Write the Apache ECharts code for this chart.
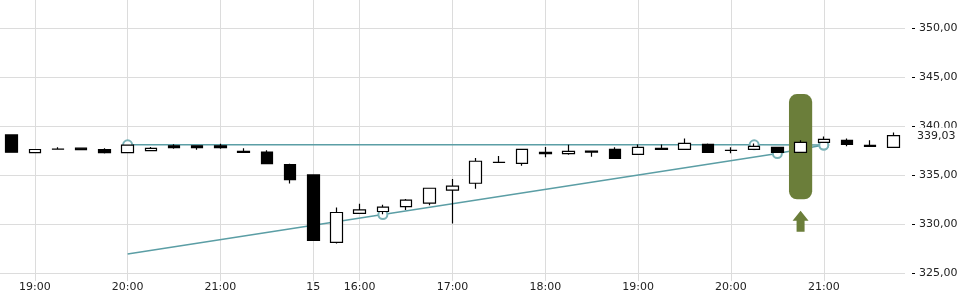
<!DOCTYPE html>
<html>
<head>
<meta charset="utf-8">
<script src="https://cdn.jsdelivr.net/npm/echarts@6/dist/echarts.min.js"></script>
<style>html,body{margin:0;padding:0;background:#fff}#c{width:960px;height:300px}</style>
</head>
<body>
<div id="c"></div>
<script>
// ---- data ----
const categories = ['18:45','19:00','19:15','19:30','19:45','20:00','20:15','20:30','20:45','21:00','21:15','21:30','21:45',
  '15:30','15:45','16:00','16:15','16:30','16:45','17:00','17:15','17:30','17:45','18:00','18:15','18:30','18:45',
  '19:00','19:15','19:30','19:45','20:00','20:15','20:30','20:45','21:00','21:15','21:30','21:45'];
// [open, close, low, high]
const ohlc = [
  [339.10,337.35,337.30,339.15],[337.30,337.62,337.30,337.62],[337.65,337.66,337.65,337.86],[337.75,337.60,337.55,337.75],
  [337.60,337.30,337.20,337.75],[337.30,338.07,337.30,338.07],[337.50,337.74,337.50,337.87],[338.00,337.80,337.70,338.15],
  [338.00,337.80,337.60,338.00],[338.00,337.80,337.70,338.20],[337.43,337.33,337.33,337.74],[337.36,336.17,336.17,337.53],
  [336.07,334.55,334.15,336.17],[335.03,328.35,328.35,335.03],[328.15,331.20,328.05,331.70],[331.10,331.47,331.10,332.08],
  [331.30,331.75,331.03,331.98],[331.80,332.45,331.45,332.58],[332.15,333.67,331.95,333.67],[333.47,333.88,330.08,334.60],
  [334.18,336.42,333.63,336.75],[336.30,336.32,336.30,336.95],[336.20,337.63,335.97,337.63],[337.33,337.19,336.82,337.87],
  [337.19,337.43,337.09,338.10],[337.46,337.36,336.88,337.46],[337.63,336.72,336.72,337.84],[337.13,337.84,337.13,338.14],
  [337.74,337.64,337.64,338.14],[337.64,338.24,337.64,338.75],[338.14,337.33,337.33,338.24],[337.53,337.54,337.23,337.84],
  [337.64,337.94,337.64,338.24],[337.84,337.33,337.33,337.84],[337.33,338.35,337.33,338.55],[338.35,338.65,338.35,338.95],
  [338.55,338.14,337.94,338.75],[338.04,337.94,337.94,338.55],[337.84,339.03,337.84,339.36]
];
const upperLine = [[5,338.10],[32,338.10],[35,338.07]];
const upperMarkers = [true,true,true];
const lowerLine = [[5,326.97],[16,330.99],[33,337.20],[35,338.07]];
const lowerMarkers = [false,true,true,true];
const highlight = [[34,332.54,343.27]];
const arrowPoint = [[34,330.30]];
const lastPrice = 339.03;
const lastPriceLabel = '339,03';
const xTickIndices = [1,5,9,13,15,19,23,27,31,35];
const xTickLabels = ['19:00','20:00','21:00','15','16:00','17:00','18:00','19:00','20:00','21:00'];
const yMin = 320, yMax = 355, yStep = 5;

// ---- chart ----
const FONT = 'DejaVu Sans';
const GRID = '#dcdcdc';
const TEAL = '#5b9ea5';
const isTick = (i) => xTickIndices.indexOf(i) >= 0;
const tickText = (i) => xTickLabels[xTickIndices.indexOf(i)];

const chart = echarts.init(document.getElementById('c'), null, {renderer: 'canvas'});
chart.setOption({
  animation: false,
  backgroundColor: '#fff',
  grid: [
    {left: 0, right: 55, top: -21.07, bottom: -22.4, outerBoundsMode: 'none', containLabel: false},
    {left: 0, right: 55, top: 0, bottom: 19, outerBoundsMode: 'none', containLabel: false}
  ],
  xAxis: [
    {type: 'category', gridIndex: 0, data: categories, boundaryGap: true,
     axisLine: {show: false}, axisTick: {show: false}, axisLabel: {show: false}, splitLine: {show: false}},
    {type: 'category', gridIndex: 1, data: categories, boundaryGap: true,
     axisLine: {show: false}, axisTick: {show: false},
     axisLabel: {interval: (i) => isTick(i), formatter: (v, i) => tickText(i) || '', margin: 1,
                 color: '#222', fontFamily: FONT, fontSize: 11},
     splitLine: {show: true, interval: (i) => isTick(i), alignWithLabel: true, lineStyle: {color: GRID, width: 1}}},
    {type: 'category', gridIndex: 1, data: categories, boundaryGap: true, offset: 14,
     axisLine: {show: false}, axisLabel: {show: false}, splitLine: {show: false},
     axisTick: {show: true, interval: (i) => isTick(i), alignWithLabel: true, length: 5, lineStyle: {color: '#000'}}}
  ],
  yAxis: [
    {type: 'value', gridIndex: 0, position: 'right', min: yMin, max: yMax, interval: yStep,
     axisLine: {show: false}, axisTick: {show: false},
     axisLabel: {margin: 14, color: '#222', fontFamily: FONT, fontSize: 11,
                 formatter: (v) => v.toFixed(2).replace('.', ',')},
     splitLine: {show: true, lineStyle: {color: GRID, width: 1}}},
    {type: 'value', gridIndex: 0, position: 'right', offset: 7, min: yMin, max: yMax, interval: yStep,
     axisLine: {show: false}, axisLabel: {show: false}, splitLine: {show: false},
     axisTick: {show: true, length: 3, lineStyle: {color: '#000'}}},
    {type: 'value', gridIndex: 1, show: false, min: 0, max: 1, splitLine: {show: false}}
  ],
  series: [
    {type: 'line', xAxisIndex: 0, yAxisIndex: 0, z: 1,
     data: upperLine.map((p, i) => ({value: p, symbol: upperMarkers[i] ? 'emptyCircle' : 'none'})),
     symbolSize: 9, lineStyle: {color: TEAL, width: 1.5}, itemStyle: {color: '#7ab2b7', borderWidth: 1},
     silent: true},
    {type: 'line', xAxisIndex: 0, yAxisIndex: 0, z: 1,
     data: lowerLine.map((p, i) => ({value: p, symbol: lowerMarkers[i] ? 'emptyCircle' : 'none'})),
     symbolSize: 9, lineStyle: {color: TEAL, width: 1.5}, itemStyle: {color: '#7ab2b7', borderWidth: 1},
     silent: true},
    {type: 'custom', xAxisIndex: 0, yAxisIndex: 0, z: 2, silent: true,
     data: highlight,
     renderItem: (params, api) => {
       const top = api.coord([api.value(0), api.value(2)]);
       const bot = api.coord([api.value(0), api.value(1)]);
       const w = api.size([1, 0])[0];
       return {type: 'rect', shape: {x: top[0] - w / 2, y: top[1], width: w, height: bot[1] - top[1], r: 8},
               style: {fill: '#6b7e3a'}};
     }},
    {type: 'scatter', xAxisIndex: 0, yAxisIndex: 0, z: 2, silent: true,
     data: arrowPoint, symbol: 'path://M8,0 L16,10 L12,10 L12,21 L4,21 L4,10 L0,10 Z',
     symbolSize: [16, 21], itemStyle: {color: '#6b7e3a', opacity: 1}},
    {type: 'candlestick', xAxisIndex: 0, yAxisIndex: 0, z: 3, barWidth: 12, silent: true, clip: false,
     data: ohlc,
     itemStyle: {color: '#ffffff', color0: '#000000', borderColor: '#000000', borderColor0: '#000000', borderWidth: 1.2},
     markLine: {silent: true, symbol: 'none', animation: false,
       lineStyle: {color: 'rgba(0,0,0,0)', width: 1, type: 'solid'},
       label: {show: true, position: 'end', distance: 12, formatter: lastPriceLabel, opacity: 1,
               backgroundColor: '#fff', padding: [3, 4, 2, 0], color: '#222', fontFamily: FONT, fontSize: 11},
       data: [{yAxis: lastPrice}]}}
  ]
});
</script>
</body>
</html>
